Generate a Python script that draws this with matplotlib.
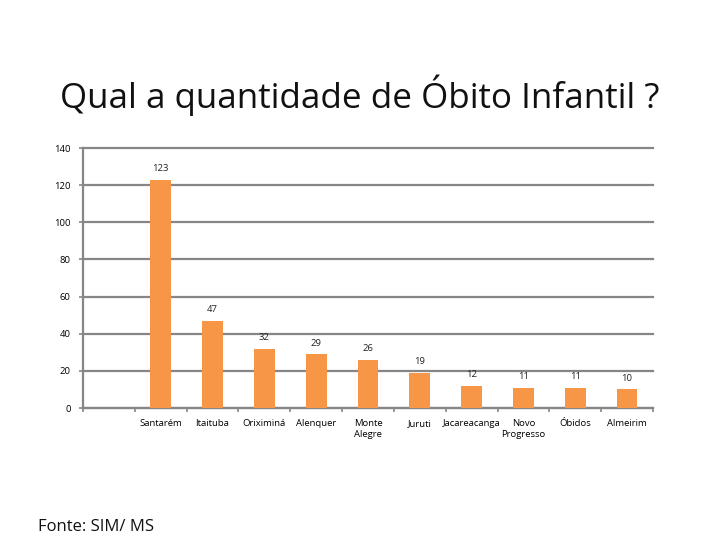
import matplotlib
matplotlib.use("Agg")
import matplotlib.pyplot as plt

categories = ["", "Santarém", "Itaituba", "Oriximiná", "Alenquer", "Monte\nAlegre",
              "Juruti", "Jacareacanga", "Novo\nProgresso", "Óbidos", "Almeirim"]
values = [None, 123, 47, 32, 29, 26, 19, 12, 11, 11, 10]
yticks = [0, 20, 40, 60, 80, 100, 120, 140]

plt.rcParams['font.family'] = ['Open Sans', 'DejaVu Sans']

fig = plt.figure(figsize=(7.2, 5.4), dpi=100)
ax = fig.add_axes([83/720, 1-408/540, 570/720, 260/540])

bar_color = "#F79646"
grid_color = "#868686"

xs = [i for i, v in enumerate(values) if v is not None]
vs = [v for v in values if v is not None]
ax.bar(xs, vs, width=0.4, color=bar_color, zorder=3)
for x, v in zip(xs, vs):
    ax.annotate(str(v), (x, v), xytext=(0, 8), textcoords="offset points",
                ha="center", va="center", fontsize=6.8, color="#222222")

ax.set_xlim(-0.5, len(categories) - 0.5)
ax.set_ylim(0, 140)
ax.set_yticks(yticks)
ax.set_yticklabels([str(t) for t in yticks], fontsize=6.8)
ax.yaxis.grid(True, color=grid_color, linewidth=1.6, zorder=0)
ax.set_axisbelow(True)
for gl in ax.get_ygridlines():
    gl.set_clip_on(False)

ax.set_xticks(range(len(categories)))
ax.set_xticklabels(categories, fontsize=6.8, linespacing=1.3)
ax.tick_params(axis="x", length=0, pad=8)
ax.set_xticks([i + 0.5 for i in range(-1, len(categories))], minor=True)
ax.tick_params(axis="x", which="minor", length=3, width=1.2, color=grid_color, direction="out")
ax.tick_params(axis="y", length=3, width=1.2, color=grid_color, pad=6)

for s in ["top", "right"]:
    ax.spines[s].set_visible(False)
for s in ["left", "bottom"]:
    ax.spines[s].set_color(grid_color)
    ax.spines[s].set_linewidth(1.6)

fig.text(0.5, 1-95/540, "Qual a quantidade de Óbito Infantil ?", ha="center", va="center",
         fontsize=25.2, color="#111111")
fig.text(38/720, 1-527/540, "Fonte: SIM/ MS", ha="left", va="center", fontsize=12, color="#111111")

fig.savefig("out.png", dpi=100)
